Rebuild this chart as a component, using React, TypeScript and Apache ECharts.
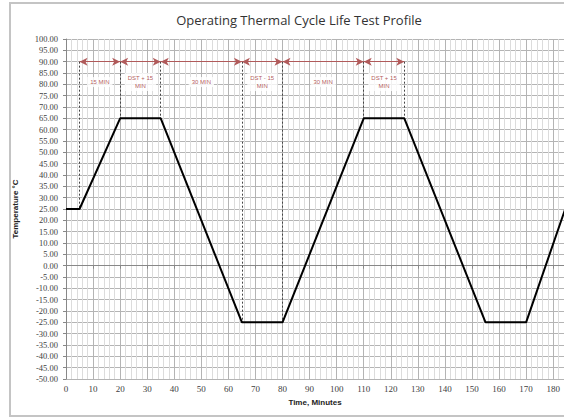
import React, { useEffect, useRef } from "react";
import * as echarts from "echarts";

const titleText = "Operating Thermal Cycle Life Test Profile";
const xAxisName = "Time, Minutes";
const yAxisName = "Temperature °C";

// Temperature profile: [minute, °C]
const profileMinutes = [0, 5, 20, 35, 65, 80, 110, 125, 155, 170, 196];
const profileTemps = [25, 25, 65, 65, -25, -25, 65, 65, -25, -25, 65];

// Annotation arrows at 90 °C between these minute boundaries
const arrowLevel = 90;
const arrowBounds = [5, 20, 35, 65, 80, 110, 125];
// Dotted guide lines: minute and lower temperature
const guideMinutes = [5, 20, 35, 65, 80, 110, 125];
const guideLowTemps = [25, 65, 65, -25, -25, 65, 65];
// Segment labels
const labelMinutes = [12.5, 27.5, 50, 72.5, 95, 117.5];
const labelTemps = [81, 81, 81, 81, 81, 81];
const labelTexts = ["15 MIN", "DST + 15\nMIN", "30 MIN", "DST - 15\nMIN", "30 MIN", "DST + 15\nMIN"];

export default function App() {
  const ref = useRef<HTMLDivElement>(null);
  useEffect(() => {
    if (!ref.current) return;
    const chart = echarts.init(ref.current, null, { renderer: "svg" });
    const profile = profileMinutes.map((m, i) => [m, profileTemps[i]]);
    const arrows = arrowBounds.slice(0, -1).map((m, i) => [
      { coord: [m, arrowLevel] },
      { coord: [arrowBounds[i + 1], arrowLevel] },
    ]);
    const guides = guideMinutes.map((m, i) => [
      { coord: [m, arrowLevel] },
      { coord: [m, guideLowTemps[i]] },
    ]);
    const labels = labelMinutes.map((m, i) => [m, labelTemps[i], labelTexts[i]]);
    chart.setOption({
      animation: false,
      backgroundColor: "#ffffff",
      title: {
        text: titleText,
        left: 294,
        top: 8,
        textAlign: "center",
        textStyle: { fontFamily: "Open Sans", fontSize: 13, fontWeight: "normal", color: "#333" },
      },
      graphic: [
        {
          type: "rect",
          shape: { x: 10, y: 3, width: 620, height: 413 },
          style: { fill: "none", stroke: "#c4c4c4", lineWidth: 2 },
          silent: true,
        },
      ],
      grid: { left: 66, right: 0, top: 39, bottom: 40 },
      xAxis: {
        type: "value",
        min: 0,
        max: 184,
        interval: 10,
        name: xAxisName,
        nameLocation: "middle",
        nameGap: 19,
        nameTextStyle: { fontFamily: "Liberation Sans", fontSize: 8, fontWeight: "bold", color: "#222" },
        axisLine: { show: true, lineStyle: { color: "#888", width: 1 } },
        axisTick: { show: true, length: 3, lineStyle: { color: "#888" } },
        axisLabel: {
          showMaxLabel: false,
          margin: 5,
          fontFamily: "Liberation Serif",
          fontSize: 9,
          color: "#404040",
        },
        splitLine: { show: true, lineStyle: { color: "#b4b4b4", width: 1 } },
        minorTick: { show: false, splitNumber: 5 },
        minorSplitLine: { show: true, lineStyle: { color: "#dcdcdc", width: 1 } },
      },
      yAxis: {
        type: "value",
        min: -50,
        max: 100,
        interval: 5,
        name: yAxisName,
        nameLocation: "middle",
        nameGap: 47,
        nameRotate: 90,
        nameTextStyle: { fontFamily: "Liberation Sans", fontSize: 8, fontWeight: "bold", color: "#222" },
        axisLine: { show: true, lineStyle: { color: "#888", width: 1 } },
        axisTick: { show: true, length: 3, lineStyle: { color: "#888" } },
        axisLabel: {
          margin: 8,
          fontFamily: "Liberation Serif",
          fontSize: 8.5,
          color: "#404040",
          formatter: (v: number) => v.toFixed(2),
        },
        splitLine: { show: true, lineStyle: { color: "#b4b4b4", width: 1 } },
      },
      series: [
        {
          type: "line",
          data: profile,
          symbol: "none",
          lineStyle: { color: "#000", width: 2 },
          z: 5,
        },
        {
          type: "line",
          data: [],
          markLine: {
            silent: true,
            symbol: "none",
            label: { show: false },
            lineStyle: { color: "#444", type: [2, 2], width: 1 },
            data: guides,
          },
        },
        {
          type: "line",
          data: [],
          markLine: {
            silent: true,
            symbol: ["arrow", "arrow"],
            symbolSize: [6, 8],
            label: { show: false },
            lineStyle: { color: "#b05a5a", type: "solid", width: 1 },
            data: arrows,
          },
        },
        {
          type: "scatter",
          data: labels,
          symbolSize: 0,
          z: 6,
          label: {
            show: true,
            position: "inside",
            formatter: (p: any) => p.value[2],
            fontFamily: "Liberation Sans",
            fontSize: 6,
            lineHeight: 8,
            color: "#a03030",
            backgroundColor: "#ffffff",
            padding: [1, 3],
          },
        },
      ],
    });
    return () => chart.dispose();
  }, []);
  return (
    <div
      ref={ref}
      style={{ position: "fixed", left: 0, top: 0, width: 564, height: 419 }}
    />
  );
}
